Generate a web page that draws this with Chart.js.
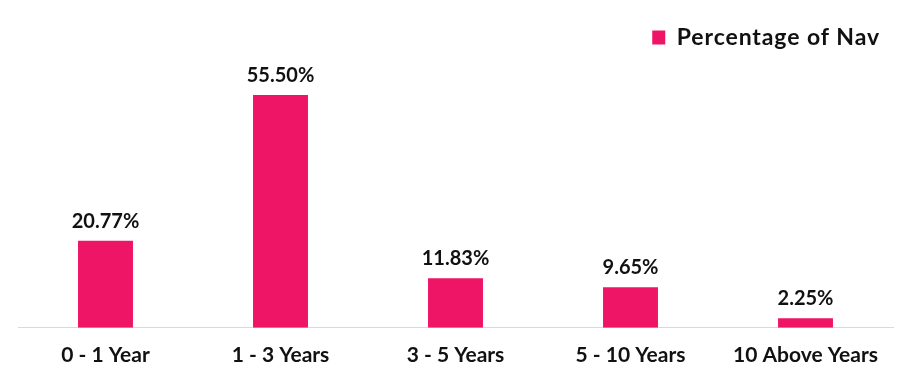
<!DOCTYPE html>
<html>
<head>
<meta charset="utf-8">
<script src="https://cdn.jsdelivr.net/npm/chart.js@4/dist/chart.umd.min.js"></script>
<style>
html,body{margin:0;padding:0;background:#fff;}
#wrap{width:914px;height:383px;position:relative;}
</style>
</head>
<body>
<div id="wrap"><canvas id="c"></canvas></div>
<script>
const categories = ["0 - 1 Year", "1 - 3 Years", "3 - 5 Years", "5 - 10 Years", "10 Above Years"];
const navPercent = [20.77, 55.50, 11.83, 9.65, 2.25];
const seriesName = "Percentage of Nav";

const barLabels = {
  id: 'barLabels',
  afterDatasetsDraw(chart) {
    const ctx = chart.ctx;
    const meta = chart.getDatasetMeta(0);
    ctx.save();
    ctx.font = "bold 20px Lato";
    ctx.fillStyle = "#111111";
    ctx.textAlign = "center";
    ctx.textBaseline = "alphabetic";
    meta.data.forEach((bar, i) => {
      ctx.fillText(navPercent[i].toFixed(2) + "%", bar.x, bar.y - 13);
    });
    ctx.restore();
  }
};

const legendTweak = {
  id: 'legendTweak',
  beforeInit(chart) {
    const lg = chart.legend;
    const origFit = lg.fit;
    const origDraw = lg.draw;
    lg.fit = function () {
      const c = this.ctx;
      const prev = c.letterSpacing;
      c.letterSpacing = '0.9px';
      origFit.apply(this, arguments);
      c.letterSpacing = prev || '0px';
      this.height += 17;
    };
    lg.draw = function () {
      const c = this.ctx;
      const prev = c.letterSpacing;
      c.letterSpacing = '0.9px';
      origDraw.apply(this, arguments);
      c.letterSpacing = prev || '0px';
    };
  }
};

new Chart(document.getElementById('c'), {
  type: 'bar',
  data: {
    labels: categories,
    datasets: [{
      label: seriesName,
      data: navPercent,
      backgroundColor: '#EF1566',
      borderWidth: 0,
      barPercentage: 0.314,
      categoryPercentage: 1.0
    }]
  },
  options: {
    responsive: true,
    maintainAspectRatio: false,
    animation: false,
    layout: { padding: { left: 18, right: 21, top: 13, bottom: 0 } },
    plugins: {
      legend: {
        position: 'top',
        align: 'end',
        labels: {
          boxWidth: 13,
          boxHeight: 14,
          padding: 13,
          color: '#111111',
          font: { family: 'Lato', weight: 'bold', size: 23 }
        }
      },
      tooltip: { enabled: false }
    },
    scales: {
      x: {
        grid: { display: false, drawTicks: false },
        border: { display: true, color: '#d9d9d9', width: 1 },
        ticks: {
          color: '#111111',
          padding: 15,
          font: { family: 'Lato', weight: 'bold', size: 21 }
        }
      },
      y: {
        display: false,
        min: 0,
        max: 60
      }
    }
  },
  plugins: [barLabels, legendTweak]
});
</script>
</body>
</html>
